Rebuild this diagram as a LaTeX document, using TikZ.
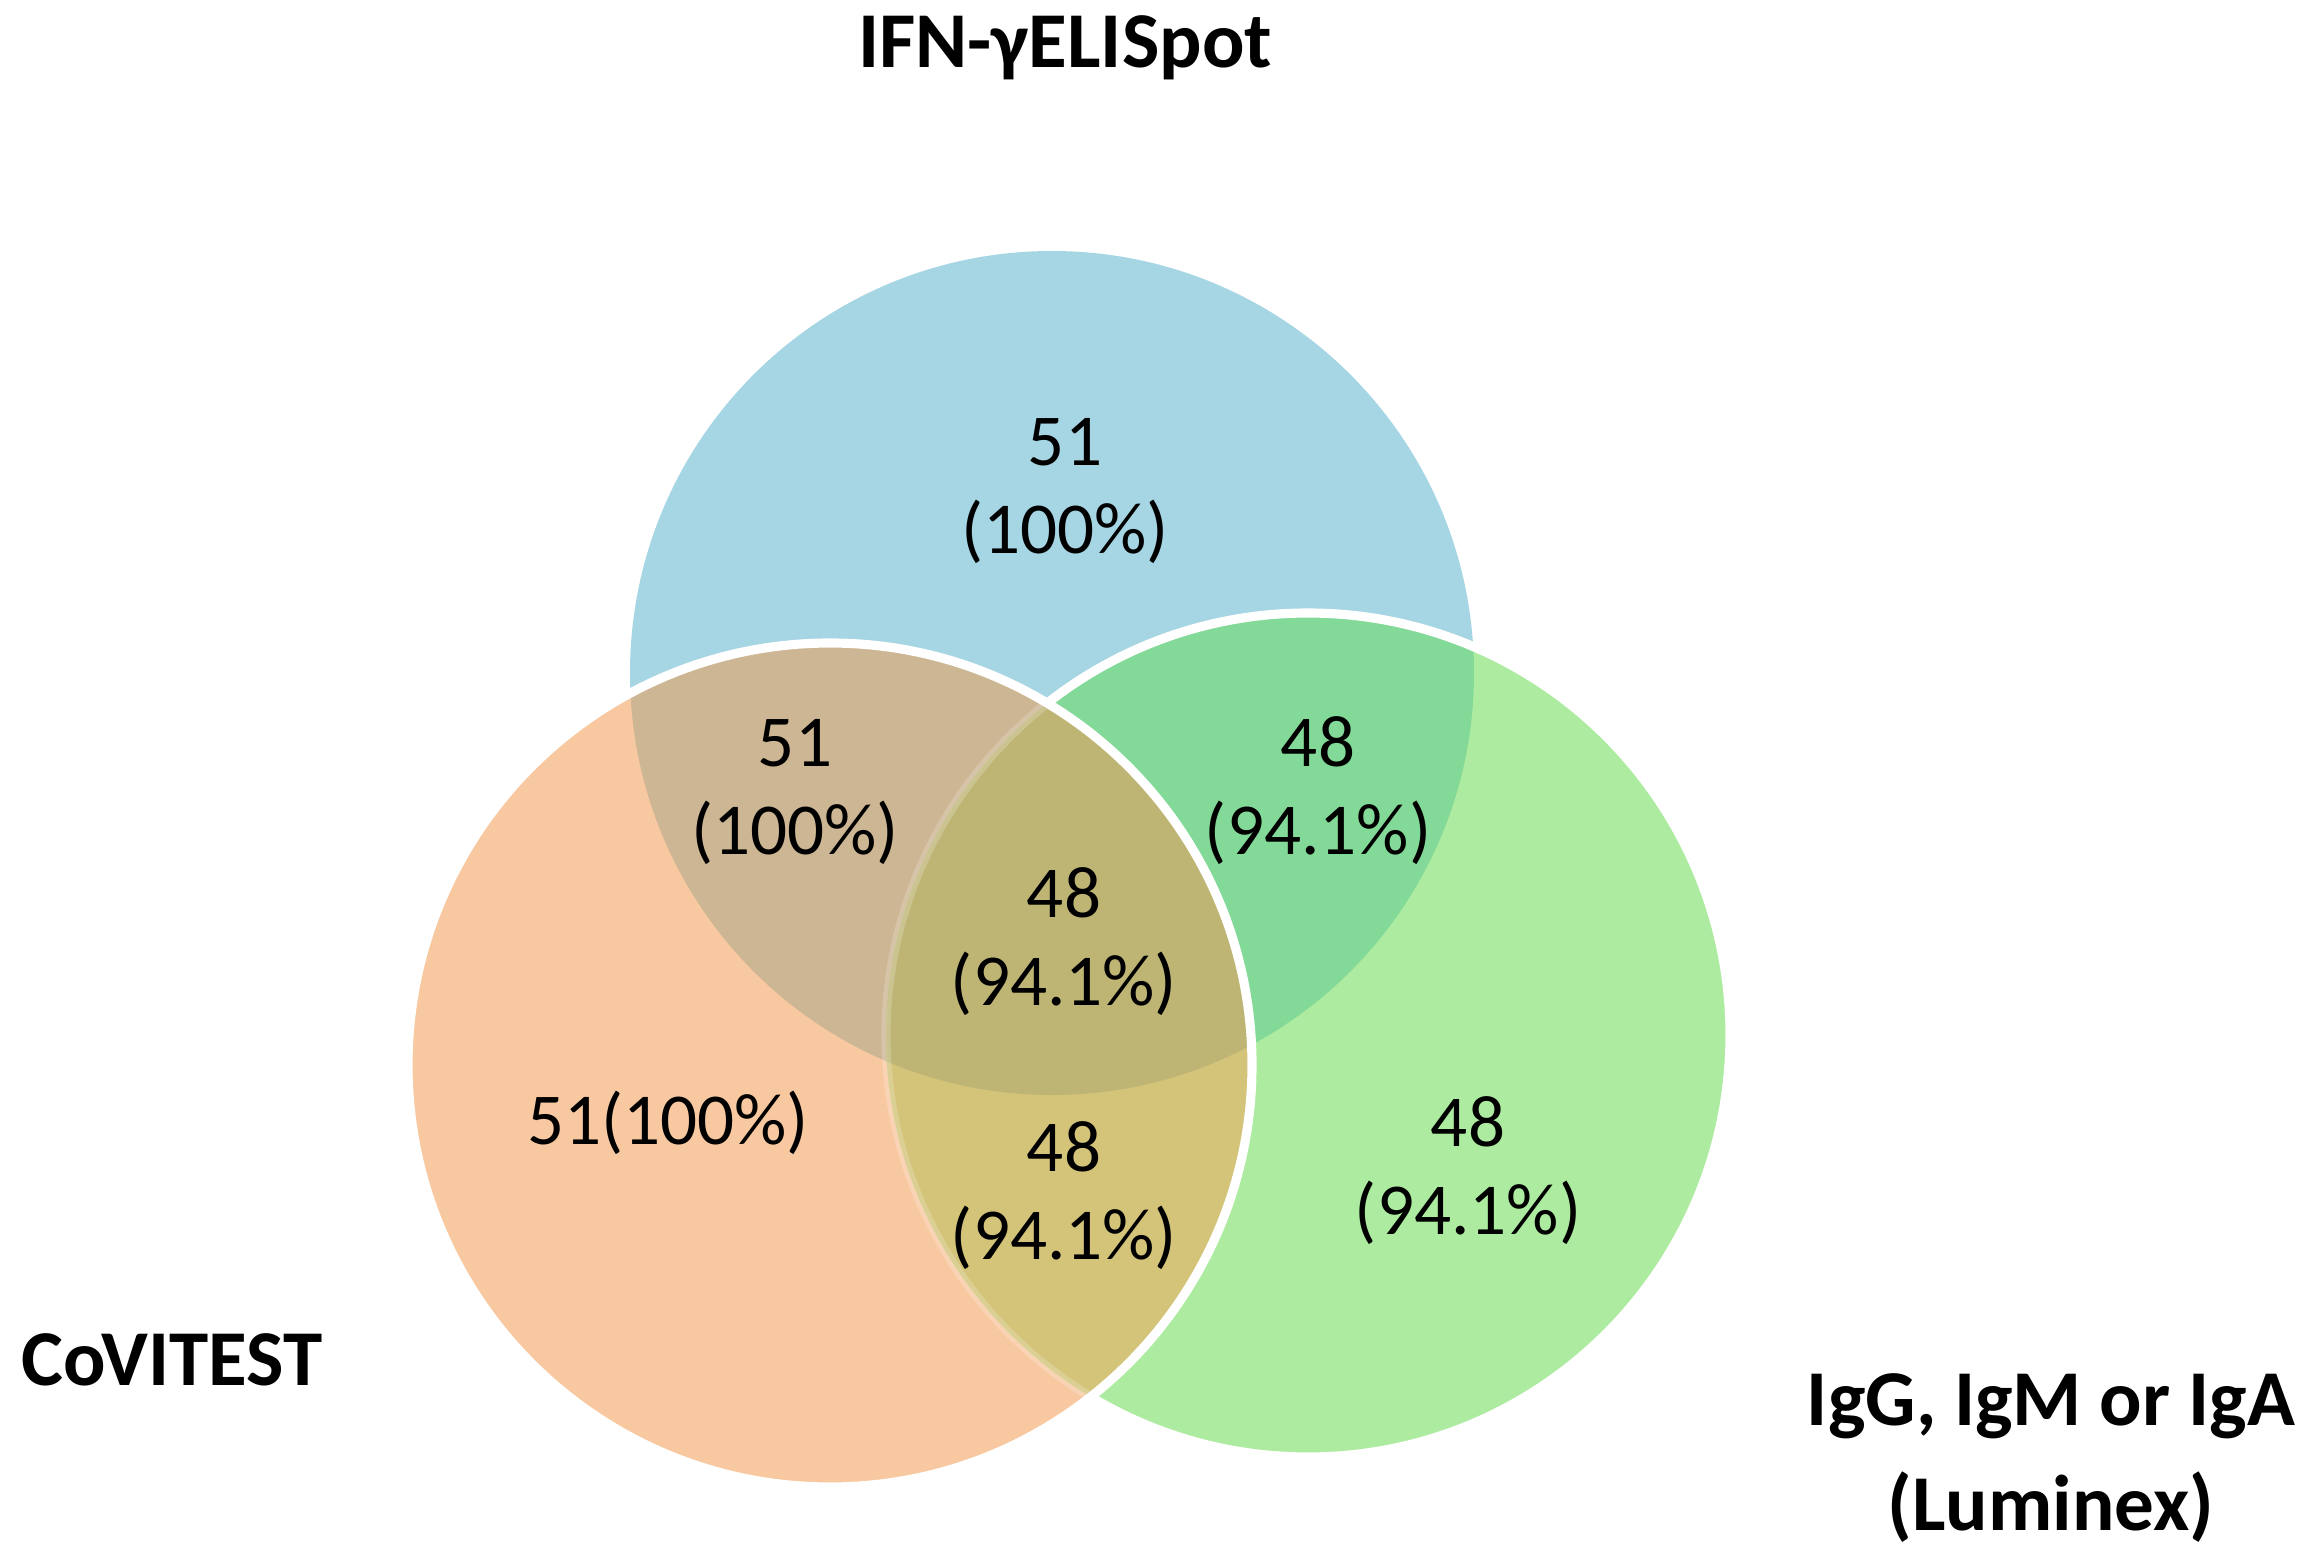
\documentclass[tikz,border=0pt]{standalone}
\usepackage{fontspec}
\setmainfont{Carlito}
\definecolor{blueC}{RGB}{166,213,227}
\definecolor{orangeC}{RGB}{248,201,161}
\definecolor{greenC}{RGB}{173,236,160}
\definecolor{tanC}{RGB}{205,182,147}
\definecolor{bgC}{RGB}{131,217,151}
\definecolor{ogC}{RGB}{212,196,122}
\definecolor{allC}{RGB}{190,181,117}
\begin{document}
\begin{tikzpicture}[x=0.01cm,y=0.01cm,
  num/.style={font=\fontsize{20.8}{24.75}\selectfont, align=center, anchor=base, inner sep=0pt},
  lab/.style={font=\fontsize{22.5}{29.6}\selectfont\bfseries, align=center, anchor=base, inner sep=0pt},
  rim/.style={white, line width=2.6pt}]
\useasboundingbox (0,0) rectangle (2303,-1555);
\def\R{422}
\coordinate (cB) at (1052,-673);
\coordinate (cO) at (830,-1065);
\coordinate (cG) at (1308,-1035);
% base fills
\fill[blueC] (cB) circle[radius=\R];
\fill[orangeC] (cO) circle[radius=\R];
\fill[greenC] (cG) circle[radius=\R];
% overlaps
\begin{scope}
  \clip (cB) circle[radius=\R];
  \fill[tanC] (cO) circle[radius=\R];
  \fill[bgC] (cG) circle[radius=\R];
\end{scope}
\begin{scope}
  \clip (cO) circle[radius=\R];
  \fill[ogC] (cG) circle[radius=\R];
  \clip (cB) circle[radius=\R];
  \fill[allC] (cG) circle[radius=\R];
\end{scope}
% outlines
\begin{scope}
  \clip (-10,10) -- (2313,10) -- (2313,-1565) -- (-10,-1565) -- cycle (cO) circle[radius=\R];
  \draw[rim] (cG) circle[radius=\R];
\end{scope}
\begin{scope}
  \clip (cO) circle[radius=\R];
  \draw[rim, opacity=0.2] (cG) circle[radius=\R];
\end{scope}
\draw[rim] (cO) circle[radius=\R];
% labels
\node[lab] (tIFN) at (1065,-68) {IFN-γELISpot};
\node[lab] (tCov) at (172,-1385) {CoVITEST};
\node[lab] (tIg) at (2051,-1530) {IgG, IgM or IgA\\(Luminex)};
% numbers
\node[num] (nB) at (1065,-553) {51\\(100\%)};
\node[num] (nBO) at (795,-854) {51\\(100\%)};
\node[num] (nBG) at (1318,-854) {48\\(94.1\%)};
\node[num] (nAll) at (1064,-1005) {48\\(94.1\%)};
\node[num] (nO) at (668,-1144) {51(100\%)};
\node[num] (nOG) at (1064,-1259) {48\\(94.1\%)};
\node[num] (nG) at (1468,-1234) {48\\(94.1\%)};
\end{tikzpicture}
\end{document}
